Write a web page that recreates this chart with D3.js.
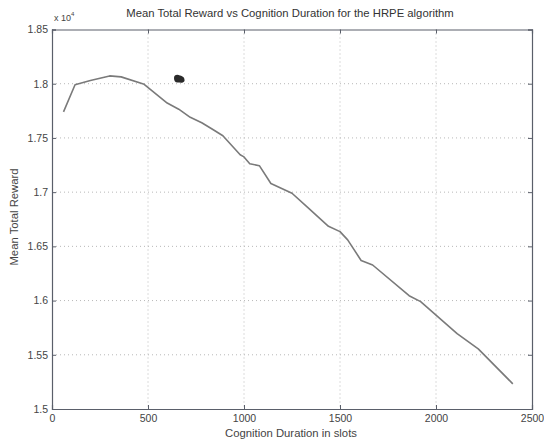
<!DOCTYPE html>
<html>
<head>
<meta charset="utf-8">
<script src="https://cdn.jsdelivr.net/npm/d3@7/dist/d3.min.js"></script>
<style>
  html, body { margin: 0; padding: 0; background: #fff; }
  svg { display: block; font-family: "Liberation Sans", Arial, sans-serif; }
</style>
</head>
<body>
<svg id="chart" width="544" height="442"></svg>
<script>
// Cognition duration (slots) and the mean total reward measured at each
const durations = [60, 120, 200, 300, 360, 480, 600, 660, 720, 780, 840, 890,
  980, 1000, 1030, 1080, 1140, 1250, 1330, 1440, 1500, 1540, 1610, 1670,
  1860, 1920, 2110, 2220, 2400];
const rewards = [17740, 17990, 18030, 18072, 18063, 17995, 17822, 17765, 17690,
  17640, 17575, 17520, 17345, 17325, 17262, 17244, 17080, 16990, 16862,
  16685, 16636, 16560, 16370, 16328, 16045, 15990, 15695, 15555, 15232];

const xTicks = [0, 500, 1000, 1500, 2000, 2500];
const yTicks = [15000, 15500, 16000, 16500, 17000, 17500, 18000, 18500];

const titleText = "Mean Total Reward vs Cognition Duration for the HRPE algorithm";
const xLabel = "Cognition Duration in slots";
const yLabel = "Mean Total Reward";

const svg = d3.select("#chart");
const margin = { left: 52, right: 12, top: 29.5, bottom: 33 };
const W = 544, H = 442;
const x = d3.scaleLinear().domain([0, 2500]).range([margin.left, W - margin.right]);
const y = d3.scaleLinear().domain([15000, 18500]).range([H - margin.bottom, margin.top]);

const axisColor = "#5a5f6a";
const textColor = "#444";

// dotted grid
const grid = svg.append("g");
grid.selectAll("line.gx").data(xTicks.slice(1, -1)).join("line")
  .attr("x1", d => x(d)).attr("x2", d => x(d))
  .attr("y1", y.range()[1]).attr("y2", y.range()[0])
  .attr("stroke", "#b8b8b8").attr("stroke-width", 1).attr("stroke-dasharray", "1,3");
grid.selectAll("line.gy").data(yTicks.slice(1, -1)).join("line")
  .attr("x1", x.range()[0]).attr("x2", x.range()[1])
  .attr("y1", d => y(d)).attr("y2", d => y(d))
  .attr("stroke", "#b8b8b8").attr("stroke-width", 1).attr("stroke-dasharray", "1,3");

// axes with inward ticks
const fmtY = d => d3.format("")(+(d / 10000).toFixed(2));
const axBottom = svg.append("g").attr("transform", `translate(0,${y.range()[0]})`)
  .call(d3.axisBottom(x).tickValues(xTicks).tickSize(-4).tickPadding(6).tickFormat(d3.format("d")));
const axTop = svg.append("g").attr("transform", `translate(0,${y.range()[1]})`)
  .call(d3.axisTop(x).tickValues(xTicks).tickSize(-4).tickFormat(""));
const axLeft = svg.append("g").attr("transform", `translate(${x.range()[0]},0)`)
  .call(d3.axisLeft(y).tickValues(yTicks).tickSize(-4).tickPadding(4).tickFormat(fmtY));
const axRight = svg.append("g").attr("transform", `translate(${x.range()[1]},0)`)
  .call(d3.axisRight(y).tickValues(yTicks).tickSize(-4).tickFormat(""));

[axBottom, axTop, axLeft, axRight].forEach(g => {
  g.select(".domain").attr("stroke", axisColor).attr("stroke-width", 1.2);
  g.selectAll(".tick line").attr("stroke", axisColor);
  g.selectAll(".tick text").attr("fill", textColor).style("font-size", "10.5px");
});

// reward curve
svg.append("path")
  .datum(durations.map((d, i) => [d, rewards[i]]))
  .attr("fill", "none")
  .attr("stroke", "#7a7a7a")
  .attr("stroke-width", 1.6)
  .attr("stroke-linejoin", "round")
  .attr("d", d3.line().x(d => x(d[0])).y(d => y(d[1])));

// small ink blot on the plot area
svg.append("path")
  .attr("d", "M174,78 C174,75 177,74 180,75.5 C183,76 185,78 184.5,81 C183.5,83.5 180,82.5 177.5,82.5 C175,82.5 174,80.5 174,78 Z")
  .attr("fill", "#2a2a2a");

// exponent marker
const ex = svg.append("text").attr("x", 54).attr("y", 21).attr("fill", textColor)
  .style("font-size", "9px");
ex.append("tspan").text("x 10");
ex.append("tspan").attr("dy", -5).style("font-size", "6px").text("4");

// title and axis labels
svg.append("text").attr("x", 290).attr("y", 17).attr("text-anchor", "middle")
  .attr("fill", "#333").style("font-size", "11.3px").text(titleText);
svg.append("text").attr("x", 291).attr("y", 437).attr("text-anchor", "middle")
  .attr("fill", textColor).style("font-size", "11.3px").text(xLabel);
svg.append("text").attr("transform", "translate(18,217) rotate(-90)").attr("text-anchor", "middle")
  .attr("fill", textColor).style("font-size", "11.3px").text(yLabel);
</script>
</body>
</html>
